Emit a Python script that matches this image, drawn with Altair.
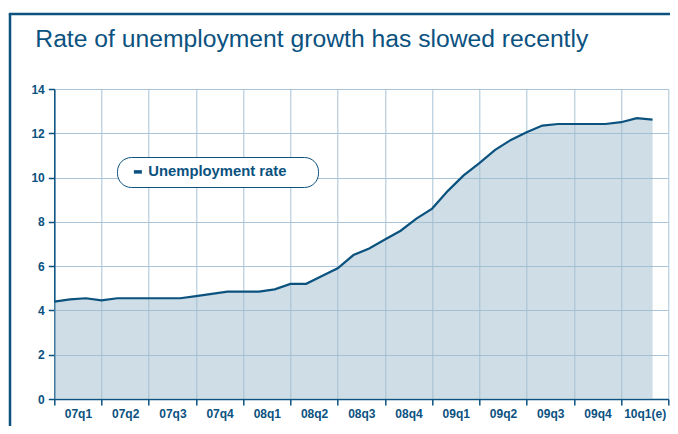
import altair as alt
import pandas as pd

# ---- data ----
quarters = ["07q1", "07q2", "07q3", "07q4", "08q1", "08q2", "08q3",
            "08q4", "09q1", "09q2", "09q3", "09q4", "10q1(e)"]
months = list(range(39))  # Jan 2007 .. Mar 2010, monthly
unemployment = [4.4, 4.5, 4.55, 4.45, 4.55, 4.55, 4.55, 4.55, 4.55,
                4.65, 4.75, 4.85, 4.85, 4.85, 4.95, 5.2, 5.2, 5.55,
                5.9, 6.5, 6.8, 7.2, 7.6, 8.15, 8.6, 9.4, 10.1, 10.65,
                11.25, 11.7, 12.05, 12.35, 12.42, 12.42, 12.42, 12.42,
                12.5, 12.68, 12.62]
series_name = "Unemployment rate"
title_text = "Rate of unemployment growth has slowed recently"
y_ticks = [0, 2, 4, 6, 8, 10, 12, 14]

df = pd.DataFrame({"month": months, "rate": unemployment,
                   "series": [series_name] * len(months)})

DARK = "#0b527f"
GRID = "#a9c4d8"
FONT = "Liberation Sans"

n_q = len(quarters)
PLOT_W = 614
PLOT_H = 310
band = PLOT_W / n_q

label_expr = ("[" + ",".join(f"'{q}'" for q in quarters) + ",''][round(datum.value/3)]")

x_enc = alt.X(
    "month:Q",
    scale=alt.Scale(domain=[0, n_q * 3], nice=False, zero=False),
    axis=alt.Axis(
        values=list(range(0, n_q * 3 + 1, 3)), labelExpr=label_expr,
        labelOffset=band / 2, labelAlign="center", labelFlush=False,
        labelOverlap=False, title=None, grid=True, gridColor=GRID,
        gridWidth=1, domainColor=DARK, domainWidth=1.5, tickColor=DARK,
        tickSize=6, tickWidth=1.5, labelPadding=3, labelFont=FONT,
        labelFontSize=12, labelFontWeight="bold", labelColor=DARK,
    ),
)
y_enc = alt.Y(
    "rate:Q",
    scale=alt.Scale(domain=[0, 14], nice=False),
    axis=alt.Axis(
        values=y_ticks, title=None, grid=True, gridColor=GRID, gridWidth=1,
        domainColor=DARK, domainWidth=1.5, tickColor=DARK, tickSize=6,
        tickWidth=1.5, labelPadding=4, labelFont=FONT, labelFontSize=12,
        labelFontWeight="bold", labelColor=DARK,
    ),
)

base = alt.Chart(df)

area = base.mark_area(color="#9dbccd", opacity=0.5).encode(x=x_enc, y=y_enc)

line = base.mark_line(strokeWidth=2.2).encode(
    x=x_enc, y=y_enc,
    color=alt.Color(
        "series:N",
        scale=alt.Scale(range=[DARK]),
        legend=alt.Legend(
            title="\u00a0", titleOrient="right", titlePadding=24,
            titleFontSize=4,
            orient="none", legendX=62.7, legendY=68,
            fillColor="white", strokeColor=DARK, cornerRadius=14,
            padding=7.5, symbolType="stroke", symbolSize=64,
            symbolStrokeWidth=3.5, symbolOffset=6, labelOffset=3,
            labelLimit=400,
            labelFont=FONT, labelFontSize=14.8, labelFontWeight="bold",
            labelColor=DARK,
        ),
    ),
)

frame_df = pd.DataFrame({"k": [0]})
frame_left = alt.Chart(frame_df).mark_rule(color=DARK, strokeWidth=2.5).encode(
    x=alt.value(-44.3), y=alt.value(-75), y2=alt.value(360))
frame_top = alt.Chart(frame_df).mark_rule(color=DARK, strokeWidth=2.5).encode(
    x=alt.value(-45.5), x2=alt.value(640), y=alt.value(-75))

chart = alt.layer(area, line, frame_left, frame_top).properties(
    width=PLOT_W, height=PLOT_H,
    title=alt.TitleParams(
        title_text, anchor="start", frame="group", font=FONT, fontSize=24.7,
        fontWeight="normal", color=DARK, dx=-19, offset=0, dy=59,
        baseline="alphabetic",
    ),
    autosize=alt.AutoSizeParams(type="none"),
    padding={"left": 46.3, "top": 81, "right": 1.7, "bottom": 27},
).configure_view(stroke=None)

chart.save("out.html", embed_options={"renderer": "svg", "actions": False})
